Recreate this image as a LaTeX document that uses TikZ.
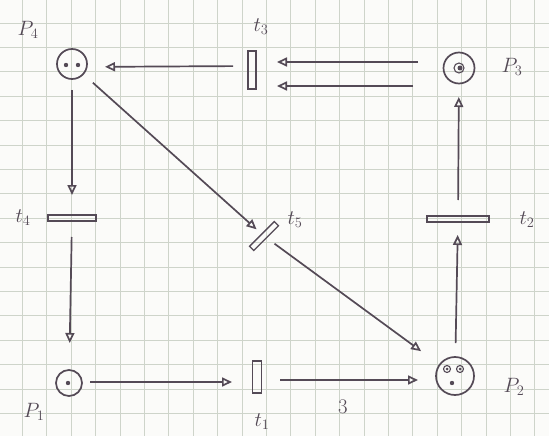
\documentclass[tikz,border=0pt]{standalone}
\usetikzlibrary{arrows.meta}
\definecolor{pencil}{RGB}{84,74,86}
\definecolor{gridc}{RGB}{206,212,202}
\definecolor{paper}{RGB}{251,251,249}
\begin{document}
\begin{tikzpicture}[x=1pt,y=-1pt,
  place/.style={circle,draw=pencil,line width=1.7pt,inner sep=0pt},
  trans/.style={rectangle,draw=pencil,line width=1.4pt,inner sep=0pt},
  arc/.style={draw=pencil,line width=1.7pt,-{Triangle[open,length=10pt,width=9pt]}},
  lbl/.style={text=pencil,font=\fontsize{22}{24}\selectfont},
  tok/.style={fill=pencil},
  ring/.style={draw=pencil,line width=1.1pt}]
\useasboundingbox (0,0) rectangle (549,436);
\fill[paper] (0,0) rectangle (549,436);
\foreach \i in {0,...,22} \draw[gridc,line width=0.9pt] (22.5+24.4*\i,0) -- (22.5+24.4*\i,436);
\foreach \j in {1,...,18} \draw[gridc,line width=0.9pt] (0,-1.4+24.4*\j) -- (549,-1.4+24.4*\j);

% places
\node[place,minimum size=30pt] (P4) at (72,64) {};
\node[place,minimum size=31pt] (P3) at (459,68) {};
\node[place,minimum size=38pt] (P2) at (455,376) {};
\node[place,minimum size=26pt] (P1) at (69,383) {};

% transitions
\node[trans,minimum width=8pt,minimum height=38pt] (t3) at (252,70) {};
\node[trans,minimum width=48pt,minimum height=6pt] (t4) at (72,218) {};
\node[trans,minimum width=62pt,minimum height=6pt] (t2) at (458,219) {};
\node[trans,minimum width=9pt,minimum height=32pt] (t1) at (257,377) {};
\node[trans,minimum width=35pt,minimum height=6pt,rotate=45] (t5) at (264,236) {};

% tokens
\fill[tok] (66,65) circle (2.2pt);
\fill[tok] (78,65) circle (2.2pt);
\fill[tok] (460,68) circle (2.5pt);
\draw[ring] (459,68) circle (5pt);
\draw[ring] (447,369) circle (3.5pt);
\fill[tok] (447,369) circle (1.5pt);
\draw[ring] (460,369) circle (3.5pt);
\fill[tok] (460,369) circle (1.5pt);
\fill[tok] (452,383) circle (2.2pt);
\fill[tok] (68,383) circle (2.2pt);

% arcs
\draw[arc,shorten <=41pt,shorten >=25pt] ([yshift=6pt]P3.center) -- ([yshift=8pt]t3.center);
\draw[arc,shorten <=46pt,shorten >=25pt] ([yshift=-18pt]P3.center) -- ([yshift=-16pt]t3.center);
\draw[arc,shorten <=19pt,shorten >=33pt] ([yshift=4pt]t3.center) -- ([yshift=-3pt]P4.center);
\draw[arc,shorten <=26pt,shorten >=23pt] (P4.center) -- (t4.center);
\draw[arc,shorten <=19pt,shorten >=40pt] (t4.center) -- (P1.center);
\draw[arc,shorten <=21pt,shorten >=25pt] ([yshift=1pt]P1.center) -- ([yshift=-5pt]t1.center);
\draw[arc,shorten <=23pt,shorten >=37pt] ([yshift=-3pt]t1.center) -- ([yshift=-4pt]P2.center);
\draw[arc,shorten <=33pt,shorten >=16pt] (P2.center) -- (t2.center);
\draw[arc,shorten <=19pt,shorten >=29pt] (t2.center) -- (P3.center);
\draw[arc,shorten <=28pt,shorten >=10pt] (P4.center) -- (t5.center);
\draw[arc,shorten <=13pt,shorten >=42pt] (t5.center) -- (P2.center);

% labels
\node[lbl] (lP4) at (28,30) {$P_4$};
\node[lbl] (lt3) at (261,27) {$t_3$};
\node[lbl] (lP3) at (512,67) {$P_3$};
\node[lbl] (lt4) at (23,218) {$t_4$};
\node[lbl] (lt5) at (295,220) {$t_5$};
\node[lbl] (lt2) at (527,220) {$t_2$};
\node[lbl] (lP1) at (34,412) {$P_1$};
\node[lbl] (lt1) at (262,422) {$t_1$};
\node[lbl] (lP2) at (514,387) {$P_2$};
\node[lbl] (l3) at (343,407) {$3$};
\end{tikzpicture}
\end{document}
